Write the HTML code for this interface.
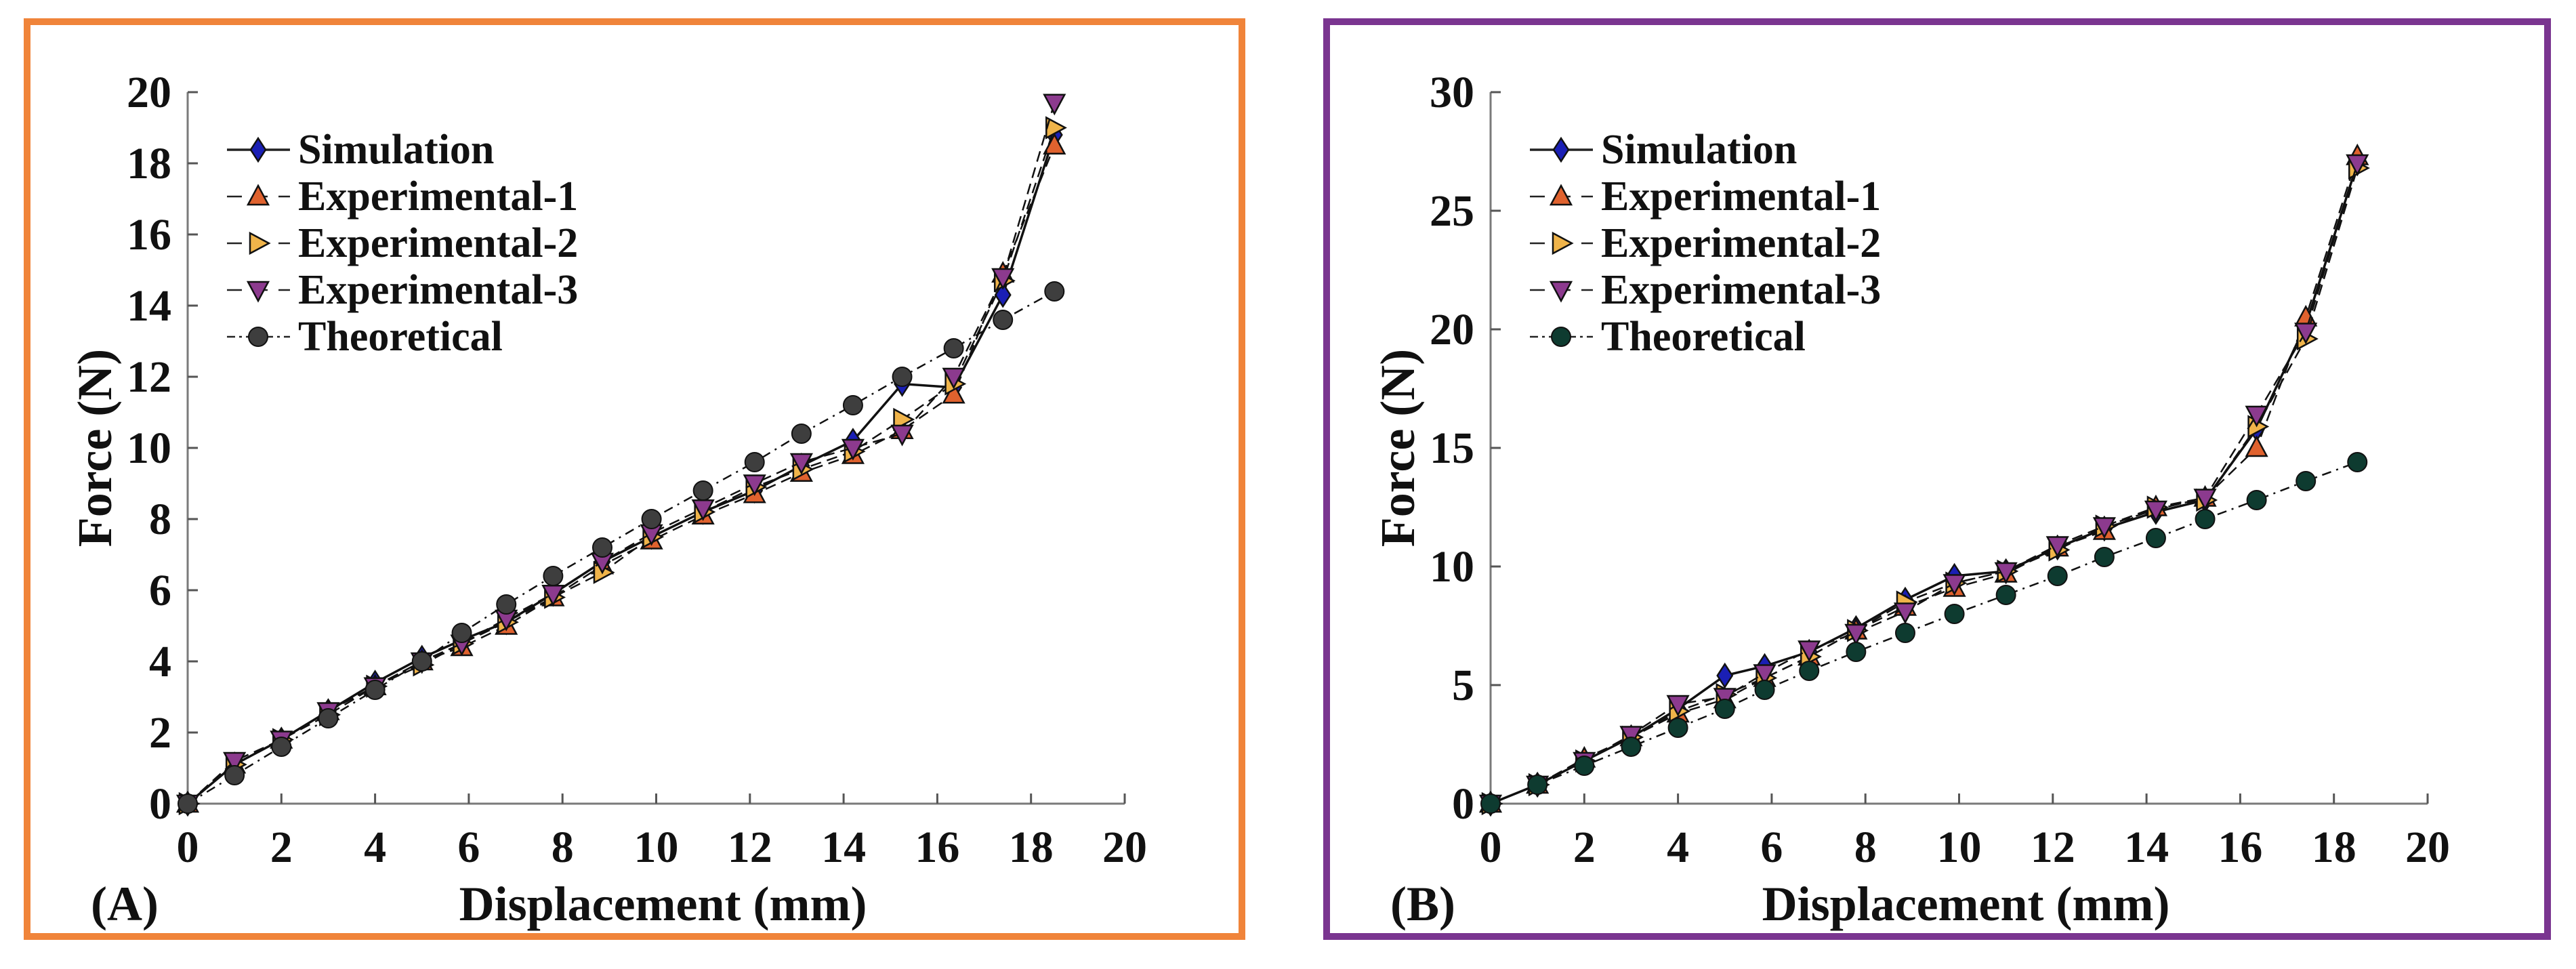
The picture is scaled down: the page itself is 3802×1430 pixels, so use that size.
<!DOCTYPE html>
<html><head><meta charset="utf-8">
<style>
html,body{margin:0;padding:0;background:#fff;}
svg{display:block;font-family:"Liberation Serif","Times New Roman",serif;}
svg text{font-family:"Liberation Serif","Times New Roman",serif !important;font-weight:bold;fill:#111;}
</style></head>
<body>
<svg id="fig" width="3802" height="1430" viewBox="0 0 3802 1430" xmlns="http://www.w3.org/2000/svg" font-family="Liberation Serif, serif" font-weight="bold"></svg>
<script>
// ---- data ----
const dispA = [0,1,2,3,4,5,5.85,6.8,7.8,8.85,9.9,11,12.1,13.1,14.2,15.25,16.35,17.4,18.5];
const simA  = [0,1.1,1.8,2.6,3.4,4.1,4.6,5.1,5.9,6.8,7.5,8.2,8.8,9.5,10.2,11.8,11.7,14.3,18.8];
const exp1A = [0,1.1,1.8,2.6,3.3,4.0,4.4,5.0,5.8,6.7,7.4,8.1,8.7,9.3,9.8,10.5,11.5,14.9,18.5];
const exp2A = [0,1.1,1.8,2.5,3.3,3.9,4.5,5.1,5.8,6.5,7.5,8.2,8.9,9.4,9.9,10.8,11.8,14.7,19.0];
const exp3A = [0,1.2,1.8,2.6,3.3,4.0,4.5,5.2,5.9,6.8,7.6,8.3,9.0,9.6,10.0,10.4,12.0,14.8,19.7];
const theoA = [0,0.8,1.6,2.4,3.2,4.0,4.8,5.6,6.4,7.2,8.0,8.8,9.6,10.4,11.2,12.0,12.8,13.6,14.4];
const dispB = [0,1,2,3,4,5,5.85,6.8,7.8,8.85,9.9,11,12.1,13.1,14.2,15.25,16.35,17.4,18.5];
const simB  = [0,0.8,1.8,2.8,4.0,5.4,5.8,6.4,7.4,8.6,9.6,9.8,10.8,11.6,12.3,12.8,15.8,20.2,27.0];
const exp1B = [0,0.8,1.9,2.8,3.8,4.4,5.3,6.2,7.3,8.3,9.1,9.7,10.8,11.5,12.5,12.9,15.0,20.5,27.3];
const exp2B = [0,0.8,1.8,2.8,3.9,4.6,5.3,6.2,7.3,8.5,9.3,9.8,10.7,11.7,12.5,12.8,15.9,19.6,26.8];
const exp3B = [0,0.8,1.8,2.9,4.2,4.5,5.5,6.5,7.2,8.1,9.3,9.8,10.9,11.7,12.4,12.9,16.4,19.9,27.0];
const theoB = [0,0.8,1.6,2.4,3.2,4.0,4.8,5.6,6.4,7.2,8.0,8.8,9.6,10.4,11.2,12.0,12.8,13.6,14.4];
const xTicks = [0,2,4,6,8,10,12,14,16,18,20];
const yTicksA = [0,2,4,6,8,10,12,14,16,18,20];
const yTicksB = [0,5,10,15,20,25,30];
const seriesNames = ["Simulation","Experimental-1","Experimental-2","Experimental-3","Theoretical"];

const NS="http://www.w3.org/2000/svg";
const svg=document.getElementById('fig');
const FF='Liberation Serif, Times New Roman, serif';
function el(tag,attrs,parent){const e=document.createElementNS(NS,tag);for(const k in attrs)e.setAttribute(k,attrs[k]);if(tag==='text'){e.setAttribute('font-family',FF);e.setAttribute('font-weight','bold');}(parent||svg).appendChild(e);return e;}

function marker(g,type,cx,cy,fill){
  let m;
  if(type==='diamond'){m=el('polygon',{points:`${cx},${cy-17} ${cx+11},${cy} ${cx},${cy+17} ${cx-11},${cy}`,fill:fill,stroke:'#111','stroke-width':2.5},g);}
  else if(type==='up'){m=el('polygon',{points:`${cx},${cy-16} ${cx+15},${cy+12} ${cx-15},${cy+12}`,fill:fill,stroke:'#111','stroke-width':2.5},g);}
  else if(type==='down'){m=el('polygon',{points:`${cx},${cy+16} ${cx+15},${cy-12} ${cx-15},${cy-12}`,fill:fill,stroke:'#111','stroke-width':2.5},g);}
  else if(type==='right'){m=el('polygon',{points:`${cx+16},${cy} ${cx-12},${cy+15} ${cx-12},${cy-15}`,fill:fill,stroke:'#111','stroke-width':2.5},g);}
  else {m=el('circle',{cx:cx,cy:cy,r:14,fill:fill,stroke:'#111','stroke-width':2},g);}
  return m;
}

function panel(opt){
  const P=el('g',{});
  
  
  const fr=el('rect',{x:opt.bx0,y:32,width:opt.bx1-opt.bx0,height:1382-32,fill:'none',stroke:opt.frame,'stroke-width':10},P);
  
  
  const x0=opt.x0,x1=opt.x0+1383,y0=1186,y1=136;
  const sx=v=>x0+(v-0)/(20-0)*(x1-x0);
  const sy=v=>y0-(v-0)/(opt.ymax)*(y0-y1);
  const ax=el('g',{},P);
  
  
  el('line',{x1:x0,y1:y0,x2:x1,y2:y0,stroke:'#7a7a7a','stroke-width':3},ax);
  el('line',{x1:x0,y1:y0,x2:x0,y2:y1,stroke:'#7a7a7a','stroke-width':3},ax);
  xTicks.forEach(t=>{
    el('line',{x1:sx(t),y1:y0,x2:sx(t),y2:y0-15,stroke:'#555','stroke-width':3},ax);
    const tx=el('text',{x:sx(t),y:1272,'text-anchor':'middle','font-size':66},ax);
    tx.textContent=t;
    
    
  });
  opt.yTicks.forEach(t=>{
    el('line',{x1:x0,y1:sy(t),x2:x0+15,y2:sy(t),stroke:'#555','stroke-width':3},ax);
    const tx=el('text',{x:x0-24,y:sy(t)+22,'text-anchor':'end','font-size':66},ax);
    tx.textContent=t;
    
    
  });
  const xt=el('text',{x:(x0+x1)/2+10,y:1358,'text-anchor':'middle','font-size':72},P);
  xt.textContent='Displacement (mm)';
  
  
  const ty=(y0+y1)/2;
  const yt=el('text',{x:x0-113,y:ty,'text-anchor':'middle','font-size':72,transform:`rotate(-90 ${x0-113} ${ty})`},P);
  yt.textContent='Force (N)';
  
  
  const lab=el('text',{x:opt.bx0+94,y:1358,'font-size':72},P);
  lab.textContent=opt.label;
  
  

  const defs=[
    {vals:opt.sim,type:'diamond',fill:'#1a1fb5',dash:'',w:3.5},
    {vals:opt.e1,type:'up',fill:'#e0622e',dash:'16 9',w:2.5},
    {vals:opt.e2,type:'right',fill:'#f0b44a',dash:'16 9',w:2.5},
    {vals:opt.e3,type:'down',fill:'#8c3a8e',dash:'16 9',w:2.5},
    {vals:opt.th,type:'circle',fill:opt.thFill,dash:'14 8 3 8',w:2.5}
  ];
  defs.forEach((d,i)=>{
    const g=el('g',{},P);
    
    
    const pts=d.vals.map((v,j)=>sx(opt.disp[j])+','+sy(v)).join(' ');
    const pl=el('polyline',{points:pts,fill:'none',stroke:'#111','stroke-width':d.w},g);
    if(d.dash)pl.setAttribute('stroke-dasharray',d.dash);
    d.g=g;
  });
  [4,0,1,2,3].forEach(i=>{
    const d=defs[i];
    d.vals.forEach((v,j)=>{
      const m=marker(d.g,d.type,sx(opt.disp[j]),sy(v),d.fill);
      
      
    });
  });
  const lg=el('g',{},P);
  
  
  defs.forEach((d,i)=>{
    const yy=221+i*69;
    const ent=el('g',{},lg);
    
    
    const lx=x0+58;
    const ln=el('line',{x1:lx,y1:yy,x2:lx+93,y2:yy,stroke:'#222','stroke-width':d.w},ent);
    if(d.dash)ln.setAttribute('stroke-dasharray',i===4?'12 6 4 6':'22 16');
    marker(ent,d.type,lx+46,yy,d.fill);
    const t=el('text',{x:lx+105,y:yy+20,'font-size':62},ent);
    t.textContent=seriesNames[i];
  });
}

panel({id:'a',label:'(A)',bx0:40,bx1:1833,x0:277,ymax:20,yTicks:yTicksA,disp:dispA,sim:simA,e1:exp1A,e2:exp2A,e3:exp3A,th:theoA,frame:'#f0843a',thFill:'#3e3e3e'});
panel({id:'b',label:'(B)',bx0:1958,bx1:3760,x0:2200,ymax:30,yTicks:yTicksB,disp:dispB,sim:simB,e1:exp1B,e2:exp2B,e3:exp3B,th:theoB,frame:'#7a3590',thFill:'#0e3b30'});
</script>
</body></html>
